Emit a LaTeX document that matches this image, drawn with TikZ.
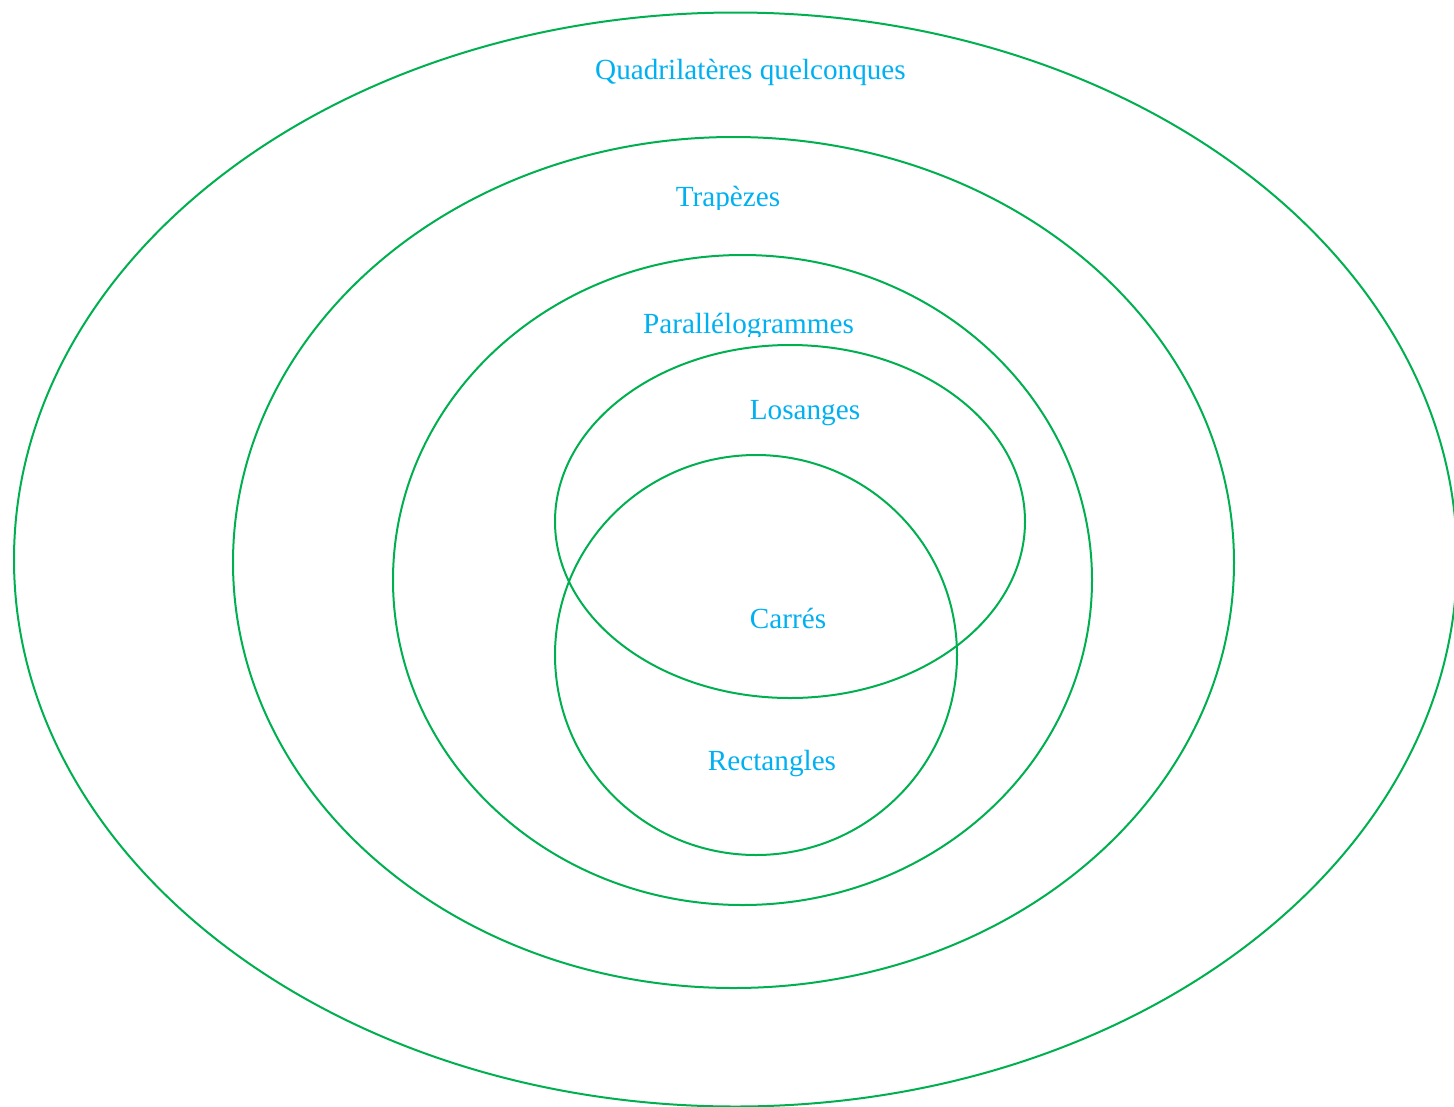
\documentclass[tikz,border=0pt]{standalone}
\usepackage{fontspec}
\setmainfont{Liberation Serif}
\definecolor{setgreen}{RGB}{0,176,80}
\definecolor{setcyan}{RGB}{0,176,240}
\tikzset{
  setline/.style={draw=setgreen, line width=2pt},
  setlabel/.style={text=setcyan, font=\fontsize{29.2}{34}\selectfont, anchor=base, inner sep=0pt}
}
\begin{document}
\begin{tikzpicture}[x=1pt, y=-1pt]
  % page frame: everything outside is cut away
  \clip (0,0) rectangle (1454,1106);

  % nested families of quadrilaterals
  \draw[setline] (735.5,559.5) ellipse [x radius=721.5, y radius=547];
  \draw[setline] (733.5,562.5) ellipse [x radius=500.5, y radius=425.5];
  \draw[setline] (742.5,580) ellipse [x radius=349.5, y radius=325];
  \draw[setline] (790,521.5) ellipse [x radius=235, y radius=176.5];
  \draw[setline] (756,655) ellipse [x radius=201, y radius=200];

  % labels
  \node[setlabel] (quad) at (750.5,79) {Quadrilatères quelconques};
  \begin{scope}
    \clip (600,150) rectangle (860,209);
    \node[setlabel] (trap) at (728,206) {Trapèzes};
  \end{scope}
  \begin{scope}
    \clip (600,280) rectangle (900,336);
    \node[setlabel] (para) at (748.5,333) {Parallélogrammes};
  \end{scope}
  \node[setlabel] (los) at (805,419) {Losanges};
  \node[setlabel] (car) at (788,628) {Carrés};
  \node[setlabel] (rect) at (772,770) {Rectangles};
\end{tikzpicture}
\end{document}
